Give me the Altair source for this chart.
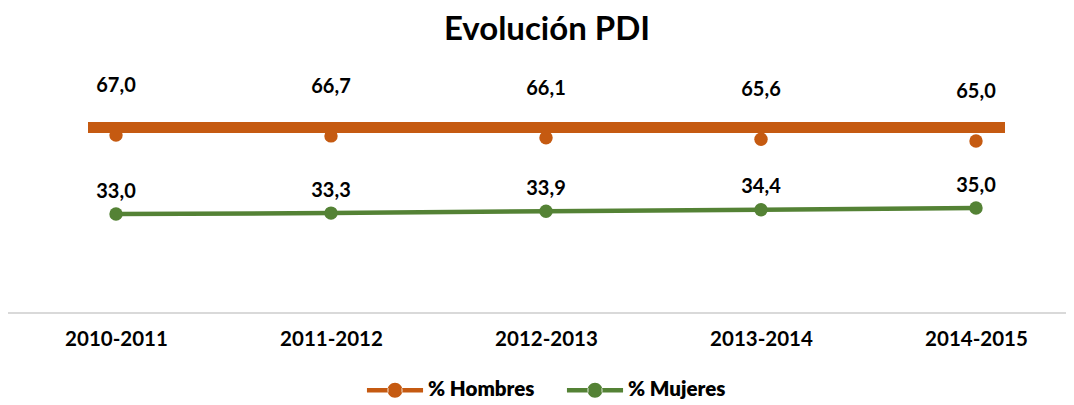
import altair as alt
import pandas as pd

years = ["2010-2011", "2011-2012", "2012-2013", "2013-2014", "2014-2015"]
hombres = [67.0, 66.7, 66.1, 65.6, 65.0]
mujeres = [33.0, 33.3, 33.9, 34.4, 35.0]
series = ["% Hombres", "% Mujeres"]
colors = ["#C55A11", "#548235"]
band_value = [69.5]

def fmt(v):
    return f"{v:.1f}".replace(".", ",")

dh = pd.DataFrame({"year": years, "value": hombres, "series": series[0],
                   "label": [fmt(v) for v in hombres]})
dm = pd.DataFrame({"year": years, "value": mujeres, "series": series[1],
                   "label": [fmt(v) for v in mujeres]})

FONT = "Lato"
x = alt.X("year:N", sort=years, title=None,
          scale=alt.Scale(type="point", range=[108, 968], padding=0),
          axis=alt.Axis(domain=False, ticks=False, grid=False, labelFont=FONT,
                        labelFontSize=20.5, labelFontWeight="bold", labelColor="#000000",
                        labelPadding=16, labelAngle=0))
color = alt.Color("series:N", scale=alt.Scale(domain=series, range=colors),
                  legend=alt.Legend(title=None, orient="none", direction="horizontal",
                                    legendX=376, legendY=306, padding=0,
                                    symbolType="M-2.55,-0.2H-0.6V0.2H-2.55Z M0.6,-0.2H2.55V0.2H0.6Z M-0.68,0A0.68,0.68,0,1,0,0.68,0A0.68,0.68,0,1,0,-0.68,0Z",
                                    symbolSize=484, symbolStrokeWidth=0, symbolOpacity=1,
                                    labelOffset=22, columnPadding=31,
                                    labelFont="Lato Bold, Lato", labelFontSize=20.5,
                                    labelFontWeight=800,
                                    labelColor="#000000", labelLimit=300))

ym = alt.Y("value:Q", scale=alt.Scale(domain=[0, 80]), axis=None)
yh = alt.Y("value:Q", scale=alt.Scale(domain=[7.67, 87.67]), axis=None)

base_m = alt.Chart(dm)
axis_line = base_m.mark_rule(color="#D9D9D9", strokeWidth=1.5).encode(
    y=alt.datum(0, scale=alt.Scale(domain=[0, 80]), axis=None),
    x=alt.value(0), x2=alt.value(1058))
line_m = base_m.mark_line(strokeWidth=4.5).encode(x=x, y=ym, color=color)
pts_m = base_m.mark_point(filled=True, size=180, opacity=1).encode(x=x, y=ym, color=color)
txt_m = base_m.mark_text(dy=-22.5, font=FONT, fontSize=20, fontWeight="bold",
                         color="#000000", baseline="middle").encode(x=x, y=ym, text="label:N")
green = alt.layer(axis_line, line_m, pts_m, txt_m)

base_h = alt.Chart(dh)
pts_h = base_h.mark_point(filled=True, size=180, opacity=1).encode(x=x, y=yh, color=color)
band = alt.Chart(pd.DataFrame({"v": band_value})).mark_rule(
    color="#C55A11", strokeWidth=11, strokeCap="butt").encode(
    y=alt.Y("v:Q", scale=alt.Scale(domain=[7.67, 87.67]), axis=None),
    x=alt.value(80), x2=alt.value(997))
txt_h = base_h.mark_text(dy=-49, font=FONT, fontSize=20, fontWeight="bold",
                         color="#000000", baseline="middle").encode(x=x, y=yh, text="label:N")
orange = alt.layer(pts_h, band, txt_h)

chart = alt.layer(green, orange).resolve_scale(y="independent").properties(
    width=1058, height=240,
    autosize=alt.AutoSizeParams(type="none"),
    padding={"left": 0, "top": 65, "right": 0, "bottom": 92},
    title=alt.TitleParams("Evolución PDI", font=FONT, fontSize=33, fontWeight="bold",
                          color="#000000", anchor="middle", offset=26, dx=10),
).configure_view(stroke=None)

chart.save("out.html", embed_options={"renderer": "svg", "actions": False})
